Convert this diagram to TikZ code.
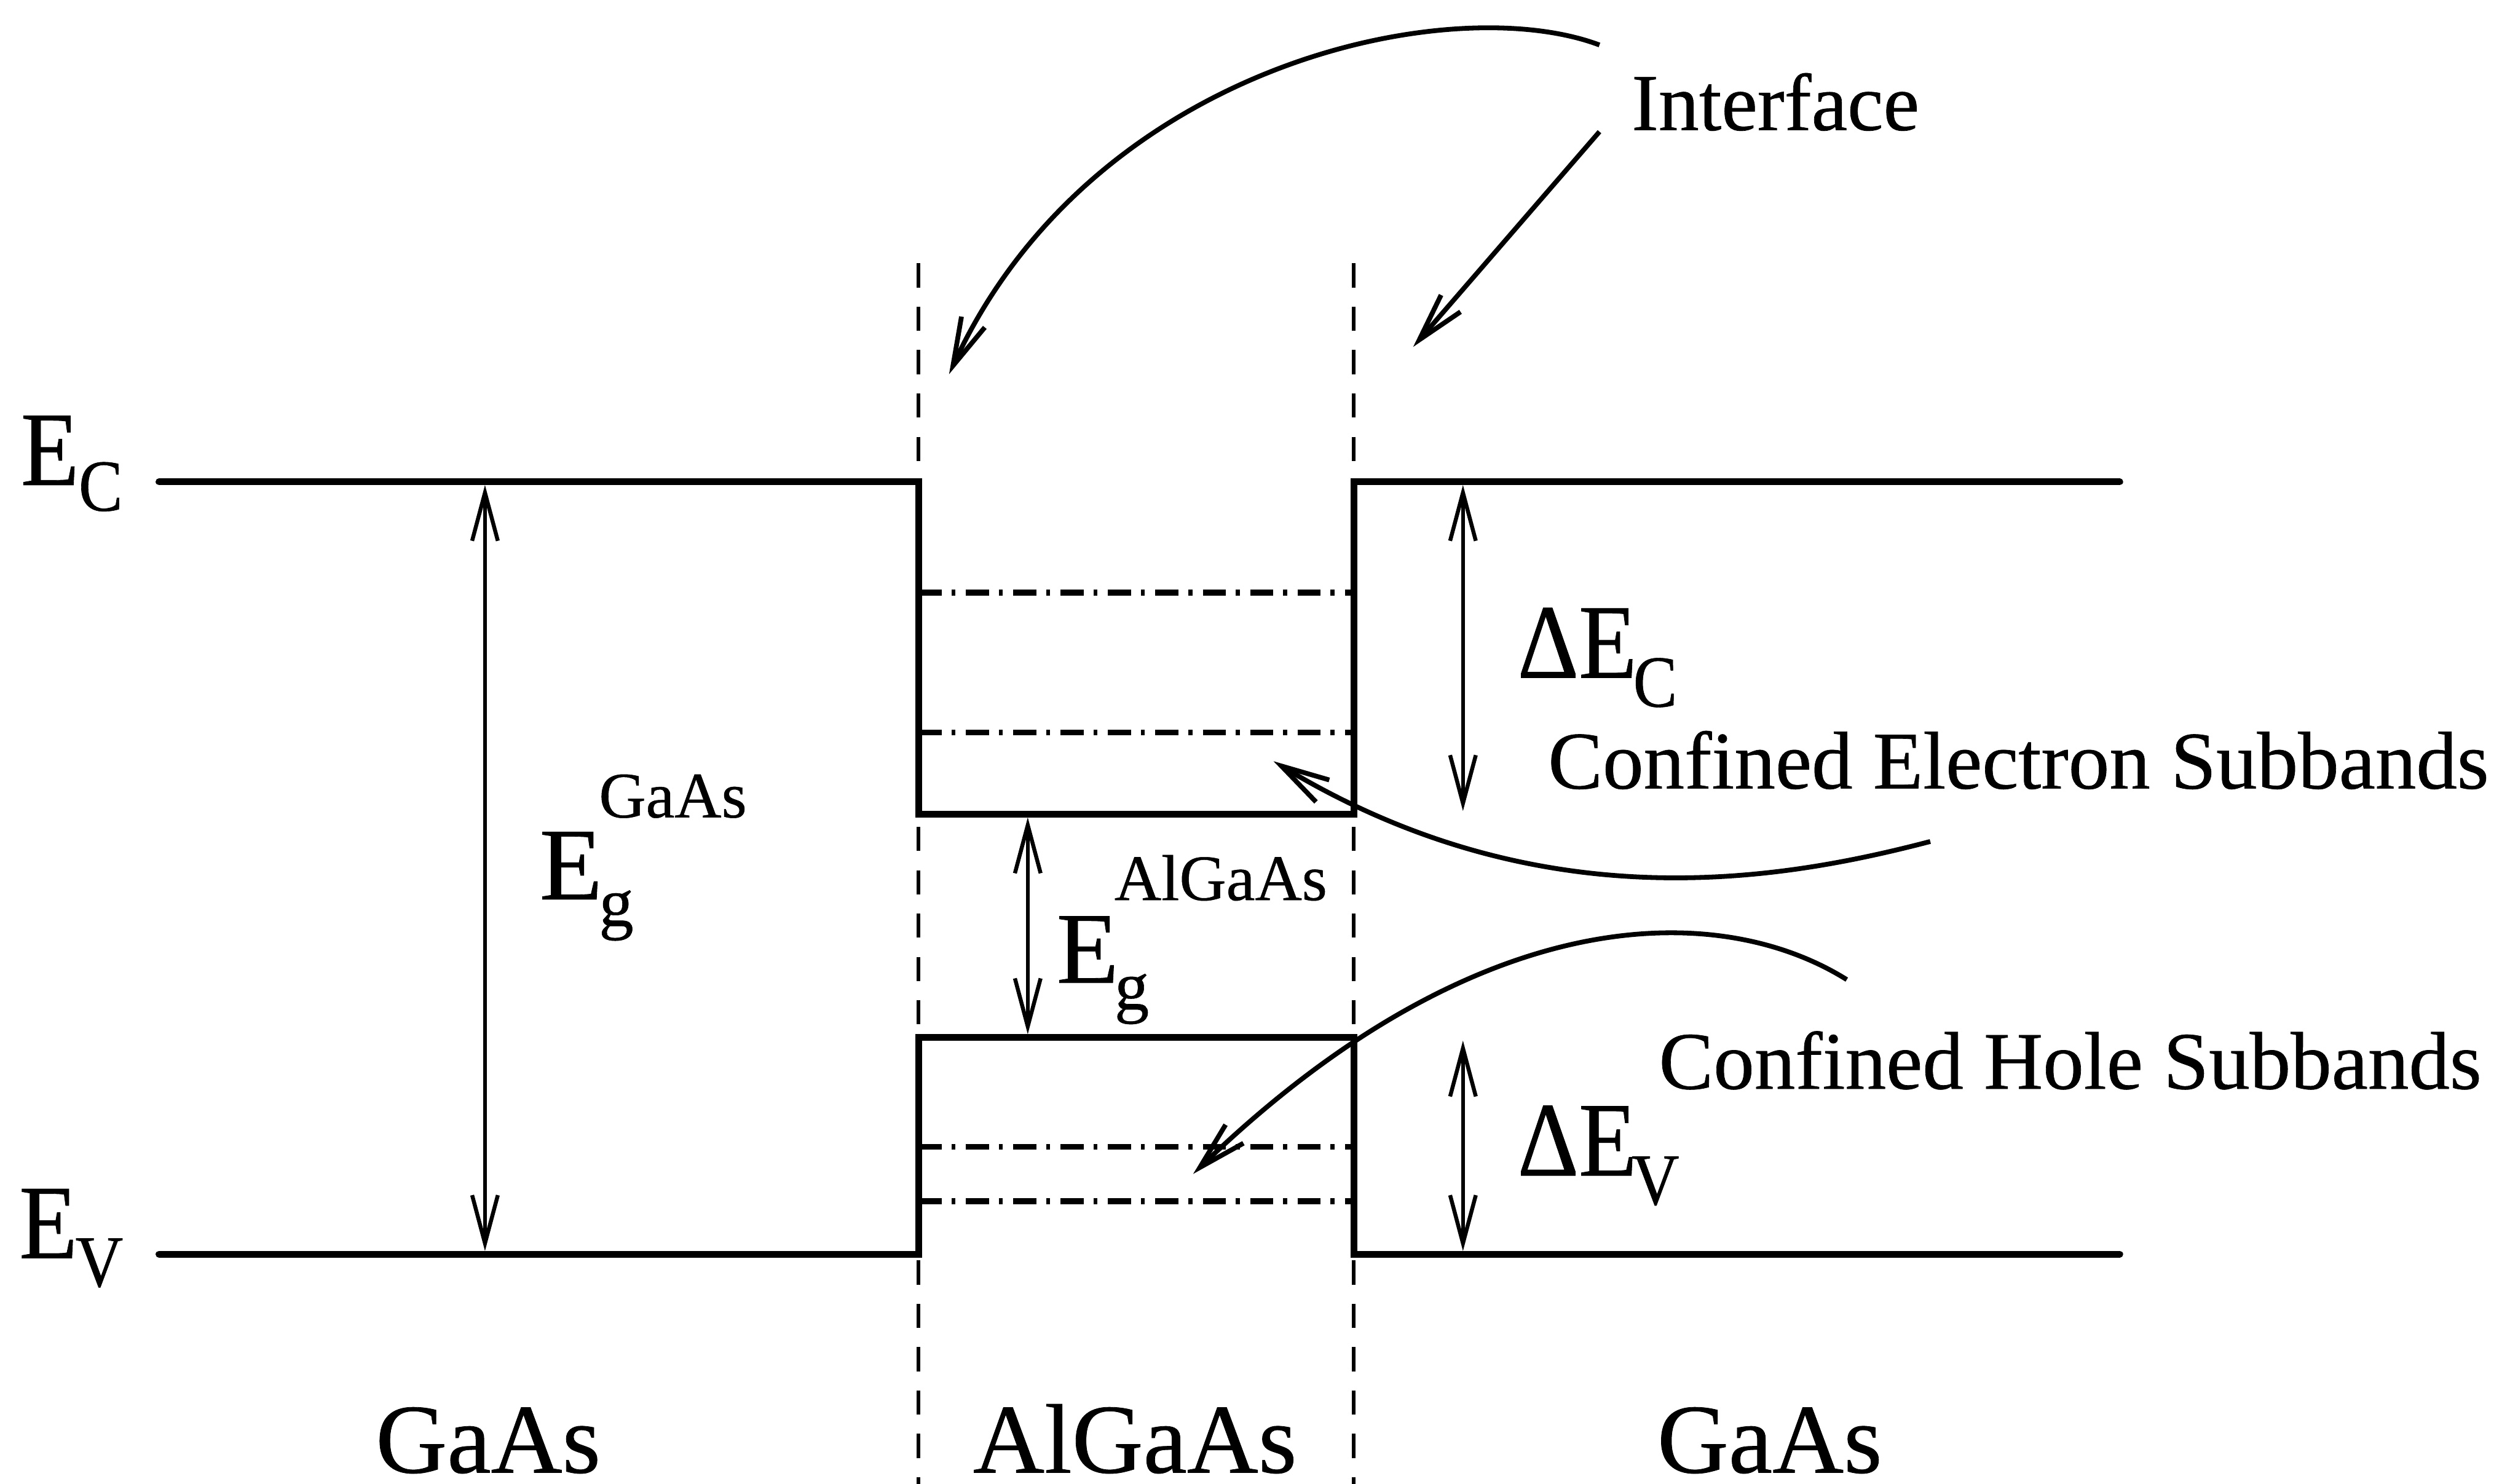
\documentclass[tikz,border=0pt]{standalone}
\usepackage{fontspec}
\setmainfont{Liberation Serif}[FakeBold=0.5]
\newfontfamily\tallfont{Liberation Serif}[FakeStretch=0.9,FakeBold=0.5]
\usetikzlibrary{arrows.meta}
\newcommand\fsz[1]{\fontsize{#1pt}{#1pt}\selectfont}
\begin{document}
\begin{tikzpicture}[x=0.02cm,y=-0.02cm,
 band/.style={line width=2.4pt, line join=miter, line cap=round},
 iface/.style={line width=1.3pt, dash pattern=on 0.3cm off 0.24cm},
 subband/.style={line width=2pt, dash pattern=on 0.29cm off 0.12cm on 0.05cm off 0.13cm},
 vtip/.tip={Straight Barb[length=0.6cm,width=0.32cm]},
 dimarrow/.style={line width=1.4pt, vtip-vtip},
 curvearrow/.style={line width=1.7pt, -vtip},
 lbl/.style={anchor=base west, inner sep=0pt, outer sep=0pt},
]
\useasboundingbox (0,0) rectangle (1568,924);
% key points
\coordinate (ecL) at (99,300);
\coordinate (ecWL) at (572,300);
\coordinate (cbWL) at (572,507);
\coordinate (cbWR) at (843,507);
\coordinate (ecWR) at (843,300);
\coordinate (ecR) at (1320,300);
\coordinate (evL) at (99,781);
\coordinate (evWL) at (572,781);
\coordinate (vbWL) at (572,646);
\coordinate (vbWR) at (843,646);
\coordinate (evWR) at (843,781);
\coordinate (evR) at (1320,781);
% interface dashed lines
\coordinate (ifLT) at (572,164);
\coordinate (ifLB) at (572,924);
\coordinate (ifRT) at (843,164);
\coordinate (ifRB) at (843,924);
\draw[iface] (ifLT) -- (ifLB);
\draw[iface] (ifRT) -- (ifRB);
% band edges
\draw[band] (ecL) -- (ecWL) -- (cbWL) -- (cbWR) -- (ecWR) -- (ecR);
\draw[band] (evL) -- (evWL) -- (vbWL) -- (vbWR) -- (evWR) -- (evR);
% subbands
\coordinate (s1L) at (572,369); \coordinate (s1R) at (843,369);
\coordinate (s2L) at (572,456); \coordinate (s2R) at (843,456);
\coordinate (s3L) at (572,714); \coordinate (s3R) at (843,714);
\coordinate (s4L) at (572,748); \coordinate (s4R) at (843,748);
\draw[subband] (s1L) -- (s1R);
\draw[subband] (s2L) -- (s2R);
\draw[subband] (s3L) -- (s3R);
\draw[subband] (s4L) -- (s4R);
% dimension arrows
\coordinate (gT) at (302,302); \coordinate (gB) at (302,779);
\coordinate (aT) at (640,509); \coordinate (aB) at (640,644);
\coordinate (cT) at (911,302); \coordinate (cB) at (911,505);
\coordinate (vT) at (911,648); \coordinate (vB) at (911,779);
\draw[dimarrow] (gT) -- (gB);
\draw[dimarrow] (aT) -- (aB);
\draw[dimarrow] (cT) -- (cB);
\draw[dimarrow] (vT) -- (vB);
% curved arrows
\coordinate (i1S) at (996,28); \coordinate (i1E) at (591,233);
\coordinate (i2S) at (996,82); \coordinate (i2E) at (880,216);
\coordinate (elS) at (1202,524); \coordinate (elE) at (793,474);
\coordinate (hoS) at (1150,610); \coordinate (hoE) at (743,731);
\draw[curvearrow] (i1S) .. controls (903,-7) and (680,40) .. (i1E);
\draw[curvearrow] (i2S) -- (i2E);
\draw[curvearrow] (elS) .. controls (1110,548) and (960,575) .. (elE);
\draw[curvearrow] (hoS) .. controls (1070,560) and (920,560) .. (hoE);
% labels
\node[lbl,font=\tallfont\fsz{37.5}] (ecE) at (13,302) {E};
\node[lbl,font=\tallfont\fsz{26}] (ecS) at (49,318) {C};
\node[lbl,font=\tallfont\fsz{37.5}] (evE) at (12,783.5) {E};
\node[lbl,font=\tallfont\fsz{26}] (evS) at (47,801) {V};
\node[lbl,font=\fsz{36.5}] (gE) at (336,560) {E};
\node[lbl,font=\fsz{24.5}] (gg) at (373,576.5) {g};
\node[lbl,font=\fsz{23}] (gsup) at (373,509) {GaAs};
\node[lbl,font=\fsz{36}] (aE) at (658,612) {E};
\node[lbl,font=\fsz{24.5}] (ag) at (694,628.5) {g};
\node[lbl,font=\fsz{23}] (asup) at (694,560.5) {AlGaAs};
\node[lbl,font=\tallfont\fsz{37.5}] (dcE) at (945,422) {ΔE};
\node[lbl,font=\tallfont\fsz{26}] (dcS) at (1017,440) {C};
\node[lbl,font=\tallfont\fsz{37.5}] (dvE) at (945,732) {ΔE};
\node[lbl,font=\tallfont\fsz{26}] (dvS) at (1016,750) {V};
\node[lbl,font=\fsz{29}] (elT) at (964,491) {Confined Electron Subbands};
\node[lbl,font=\fsz{29}] (hoT) at (1033,678) {Confined Hole Subbands};
\node[lbl,font=\fsz{28.7}] (ifT) at (1016,81) {Interface};
\node[lbl,font=\fsz{35}] (m1) at (234,917) {GaAs};
\node[lbl,font=\fsz{35}] (m2) at (606,917) {AlGaAs};
\node[lbl,font=\fsz{35}] (m3) at (1032,917) {GaAs};
\end{tikzpicture}
\end{document}
